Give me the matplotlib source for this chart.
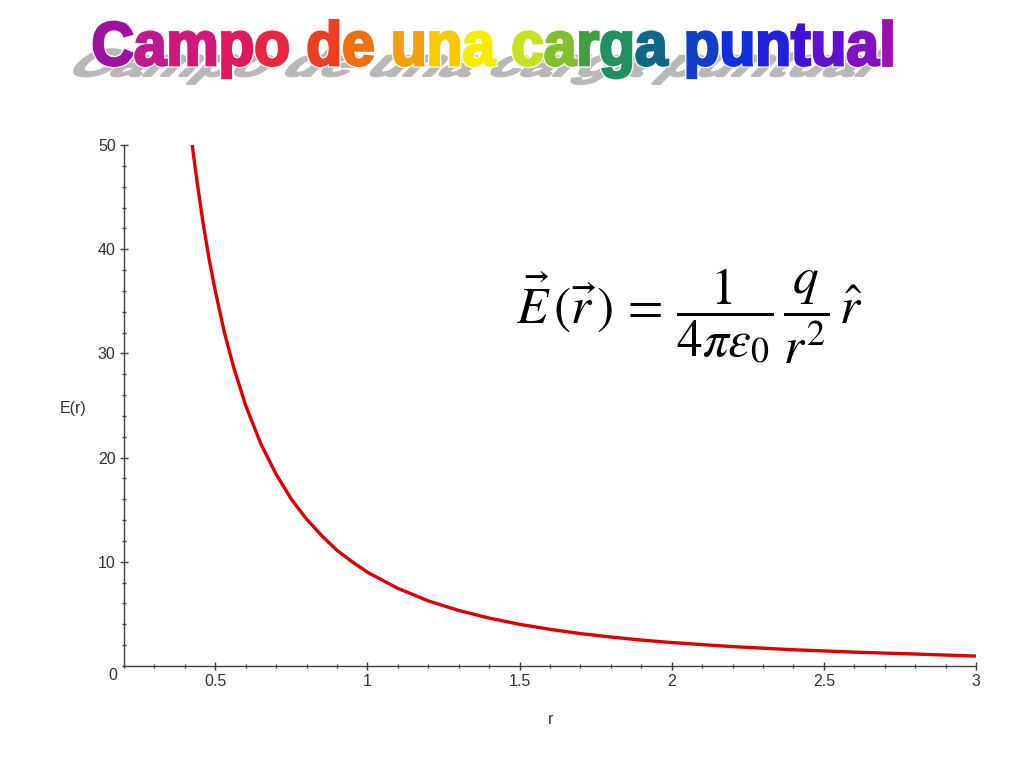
import matplotlib
matplotlib.use("Agg")
import matplotlib.pyplot as plt
from matplotlib.textpath import TextPath
from matplotlib.font_manager import FontProperties
from matplotlib.patches import PathPatch
from matplotlib.transforms import Affine2D
from matplotlib.ticker import MultipleLocator
import matplotlib.patheffects as pe

# ---- data ----
r_vals = [0.424, 0.44, 0.46, 0.48, 0.50, 0.53, 0.56, 0.60, 0.65, 0.70, 0.75, 0.80,
          0.85, 0.90, 0.95, 1.00, 1.10, 1.20, 1.30, 1.40, 1.50, 1.60, 1.70, 1.80,
          1.90, 2.00, 2.20, 2.40, 2.60, 2.80, 3.00]
E_vals = [50.0, 46.5, 42.5, 39.0, 36.0, 32.0, 28.7, 25.0, 21.3, 18.4, 16.0, 14.1,
          12.5, 11.1, 10.0, 9.0, 7.45, 6.25, 5.33, 4.6, 4.0, 3.52, 3.11, 2.78,
          2.49, 2.25, 1.86, 1.56, 1.33, 1.15, 0.95]
x_ticks = [0.5, 1, 1.5, 2, 2.5, 3]
x_tick_labels = ["0.5", "1", "1.5", "2", "2.5", "3"]
y_ticks = [10, 20, 30, 40, 50]
y_tick_labels = ["10", "20", "30", "40", "50"]
title_text = "Campo de una carga puntual"
title_colors = ["#a010a0", "#c01890", "#d01878", "#e01860", "#e82840", None,
                "#e84020", "#f07010", None,
                "#f0a010", "#f8c800", "#f8ec00", None,
                "#c8e020", "#80c030", "#40a040", "#209060", "#106888", None,
                "#1040c8", "#1030e0", "#2020e0", "#4010d8", "#6010d0", "#8010c0", "#a010b0"]

W, H = 1024, 768
fig = plt.figure(figsize=(W / 100, H / 100), dpi=100)
fig.patch.set_facecolor("white")

tick_font = "Liberation Sans"
tcol = "#303030"

# axes in pixel layout: x 124..976, y 145..666 (image coords)
ax = fig.add_axes([124 / W, 1 - 666 / H, (976 - 124) / W, (666 - 145) / H])
ax.plot(r_vals, E_vals, color="#e00000", lw=2.4, solid_capstyle="butt")
ax.set_xlim(0.2, 3.0)
ax.set_ylim(0, 50)
for s in ["top", "right"]:
    ax.spines[s].set_visible(False)
for s in ["left", "bottom"]:
    ax.spines[s].set_color("#404040")
    ax.spines[s].set_linewidth(1.0)
ax.set_xticks(x_ticks)
ax.set_xticklabels(x_tick_labels)
ax.set_yticks(y_ticks)
ax.set_yticklabels(y_tick_labels)
ax.xaxis.set_minor_locator(MultipleLocator(0.1))
ax.yaxis.set_minor_locator(MultipleLocator(2))
ax.tick_params(which="major", direction="inout", length=6, width=1, color="#404040",
               labelsize=11.5, labelcolor=tcol)
ax.tick_params(which="minor", direction="inout", length=3, width=1, color="#404040")
ax.tick_params(axis="x", pad=3)
ax.tick_params(axis="y", pad=3)
for lab in ax.get_xticklabels() + ax.get_yticklabels():
    lab.set_fontfamily(tick_font)
fig.text(113 / W, 1 - 676 / H, "0", fontsize=11.5, color=tcol, family=tick_font,
         ha="center", va="center")
fig.text(73 / W, 1 - 408 / H, "E(r)", fontsize=11.5, color=tcol, family=tick_font,
         ha="center", va="center")
fig.text(551 / W, 1 - 720 / H, "r", fontsize=11.5, color=tcol, family=tick_font,
         ha="center", va="center")

# equation
plt.rcParams["mathtext.fontset"] = "stix"
fig.text(689 / W, 1 - 316 / H,
         r"$\vec{E}\,(\vec{r}\,)\,=\,\dfrac{1}{4\pi\varepsilon_0}\,\dfrac{q}{r^2}\,\hat{r}$",
         fontsize=37, color="black", ha="center", va="center")

# ---- rainbow title with shadow ----
prop = FontProperties(family="Liberation Sans", weight="bold")
S = 100.0
full = TextPath((0, 0), title_text, size=S, prop=prop)
fe = full.get_extents()
cap = TextPath((0, 0), "C", size=S, prop=prop).get_extents()
cap_h = cap.y1
target_left, target_right = 94.0, 891.0
sx = (target_right - target_left) / (fe.x1 - fe.x0)
sy = 43.0 / cap_h
base_y = H - 65.0  # display coords

glyphs = []
for i, ch in enumerate(title_text):
    if ch == " ":
        continue
    pre = TextPath((0, 0), title_text[: i + 1], size=S, prop=prop).get_extents()
    g = TextPath((0, 0), ch, size=S, prop=prop)
    ge = g.get_extents()
    x0 = pre.x1 - ge.x1
    glyphs.append((g, x0, title_colors[i]))

# shadow: squashed and sheared, grey
sh_sy = sy * 0.62
shear = 1.0
sh_base = H - 76.0
for g, x0, c in glyphs:
    tr = (Affine2D().translate(x0 - fe.x0, 0).scale(sx, sh_sy)
          + Affine2D([[1, shear, 0], [0, 1, 0], [0, 0, 1]])
          + Affine2D().translate(target_left - 28, sh_base))
    p = PathPatch(g, transform=tr, facecolor="#b8b8b8", edgecolor="#b8b8b8", lw=1.5)
    fig.add_artist(p)

for g, x0, c in glyphs:
    tr = Affine2D().translate(x0 - fe.x0, 0).scale(sx, sy).translate(target_left, base_y)
    p = PathPatch(g, transform=tr, facecolor=c, edgecolor=c, lw=2.0)
    p.set_path_effects([pe.Stroke(linewidth=3.8, foreground="white"), pe.Normal()])
    fig.add_artist(p)

fig.savefig("out.png", dpi=100, facecolor="white")
